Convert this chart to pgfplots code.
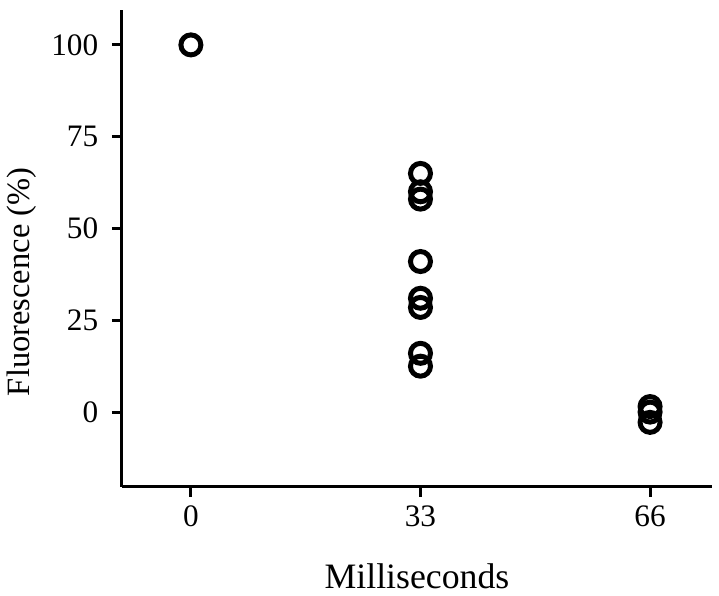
\documentclass[border=0pt]{standalone}
\usepackage{fontspec}
\setmainfont{Liberation Serif}
\usepackage{pgfplots}
\pgfplotsset{compat=1.18}

\begin{document}
\begin{tikzpicture}
\begin{axis}[
  at={(0,0)}, anchor=south west,
  scale only axis,
  width=236pt, height=190.8pt,
  xmin=-9.9, xmax=74.9,
  ymin=-20.4, ymax=109.5,
  axis lines*=left,
  axis line style={line width=1.2pt, -},
  xtick={0,33,66},
  ytick={0,25,50,75,100},
  tick align=outside,
  major tick length=4pt,
  tick style={line width=1.2pt, black},
  tick label style={font=\fontsize{12.5}{14}\selectfont},
  /pgf/number format/assume math mode=true,
  yticklabel style={xshift=-2pt},
  xlabel={Milliseconds},
  ylabel={Fluorescence (\%)},
  xlabel style={font=\fontsize{14.3}{16}\selectfont, yshift=-8pt},
  ylabel style={font=\fontsize{13}{15}\selectfont,
    at={(axis description cs:-0.17,0.43)}, anchor=center},
  clip=false,
]
\addplot[only marks, mark=o, mark size=4pt,
  mark options={line width=2pt, fill=white, draw=black}]
  coordinates {
  (0,100)
  (33,12.5) (33,16) (33,28.5) (33,31) (33,41) (33,58) (33,60) (33,65)
  (66,1.5) (66,-2.8) (66,0)
};
\end{axis}
\pgfresetboundingbox
\path (-48.8pt,-43.6pt) rectangle (238.8pt,194.8pt);
\end{tikzpicture}
\end{document}
